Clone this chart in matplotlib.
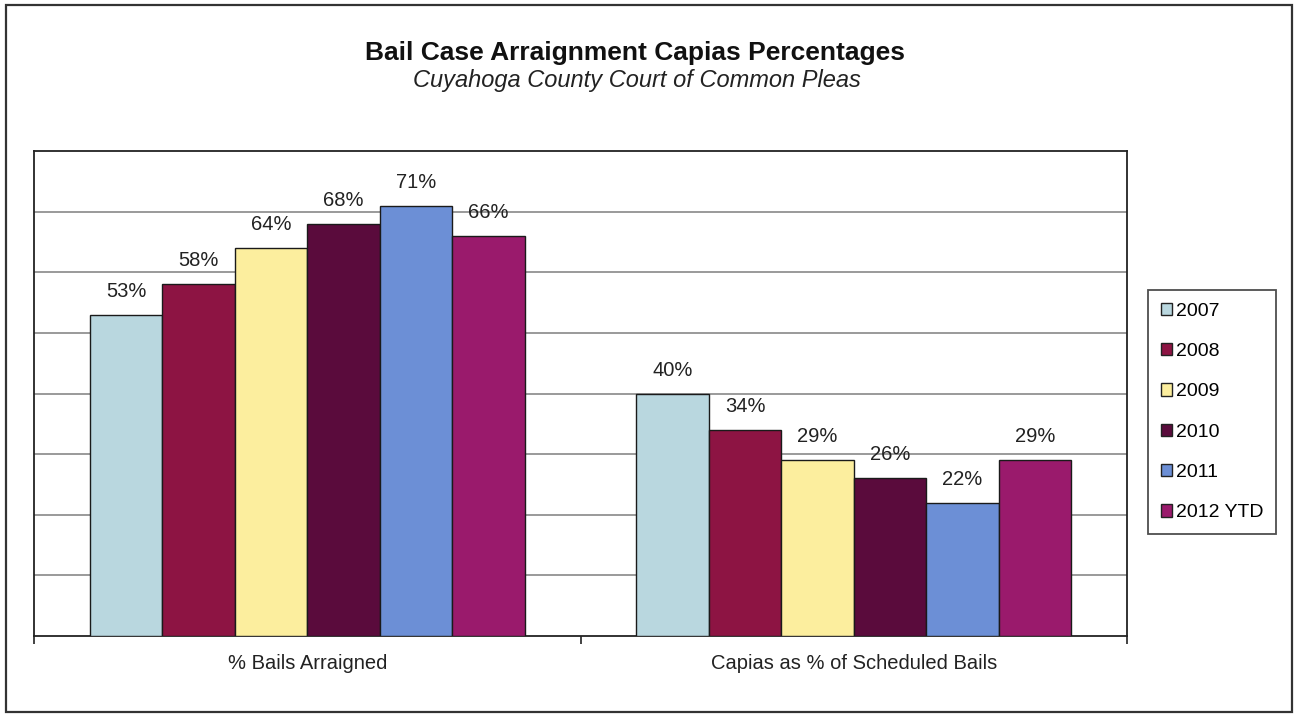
import matplotlib
matplotlib.use("Agg")
import matplotlib.pyplot as plt
from matplotlib.patches import Rectangle, Patch
import numpy as np

categories = ["% Bails Arraigned", "Capias as % of Scheduled Bails"]
series_names = ["2007", "2008", "2009", "2010", "2011", "2012 YTD"]
values = {
    "2007": [53, 40],
    "2008": [58, 34],
    "2009": [64, 29],
    "2010": [68, 26],
    "2011": [71, 22],
    "2012 YTD": [66, 29],
}
colors = ["#b9d7df", "#8d1443", "#fcee9e", "#5a0b3c", "#6c8fd6", "#9a1a6c"]

plt.rcParams['font.family'] = ['Liberation Sans', 'DejaVu Sans']

fig = plt.figure(figsize=(12.94, 7.16), dpi=100)
fig.patch.set_facecolor("white")
fig.patches.append(Rectangle((6/1294, 1-712/716), 1286/1294, 707/716,
                             transform=fig.transFigure, fill=False,
                             edgecolor="#333333", linewidth=1.6))

ax = fig.add_axes([34/1294, 1-636/716, (1127-34)/1294, (636-151)/716])
x = np.arange(len(categories))
n = len(series_names)
w = 0.1327
for i, name in enumerate(series_names):
    pos = x + (i - (n-1)/2) * w
    vals = values[name]
    ax.bar(pos, vals, width=w, color=colors[i], edgecolor="#1a1a1a",
           linewidth=1.0, zorder=3, label=name)
    for px, v in zip(pos, vals):
        ax.text(px, v + 2.3, f"{v}%", ha="center", va="bottom",
                fontsize=14.5, color="#222222", zorder=4)

ax.set_xlim(-0.5, 1.5)
ax.set_ylim(0, 80)
ax.set_yticks(np.arange(10, 80, 10))
ax.yaxis.grid(True, color="#9a9a9a", linewidth=1.4, zorder=0)
ax.tick_params(axis="y", left=False, labelleft=False)
ax.set_xticks([-0.5, 0.5, 1.5])
ax.set_xticklabels([])
ax.tick_params(axis="x", which="major", direction="out", length=6, width=1.2, color="#222222")
ax.set_xticks(x, minor=True)
ax.set_xticklabels(categories, minor=True, fontsize=14.5, color="#222222")
ax.tick_params(axis="x", which="minor", length=0, pad=13)
for s in ax.spines.values():
    s.set_color("#222222")
    s.set_linewidth(1.3)

fig.text(635/1294, 1-53/716, "Bail Case Arraignment Capias Percentages",
         ha="center", va="center", fontsize=19, fontweight="bold", color="#111111")
fig.text(637/1294, 1-81/716, "Cuyahoga County Court of Common Pleas",
         ha="center", va="center", fontsize=17, fontstyle="italic", color="#222222")

handles = [Patch(facecolor=c, edgecolor="#222222", linewidth=1.0) for c in colors]
leg = fig.legend(handles, series_names, loc="upper left",
                 bbox_to_anchor=(1148/1294, 1-290/716), frameon=True,
                 fontsize=14, handlelength=0.6, handleheight=0.6,
                 handletextpad=0.2, labelspacing=1.2, borderpad=0.65,
                 fancybox=False, borderaxespad=0)
leg.get_frame().set_edgecolor("#222222")
leg.get_frame().set_linewidth(1.3)

fig.savefig("out.png", dpi=100, facecolor="white")
